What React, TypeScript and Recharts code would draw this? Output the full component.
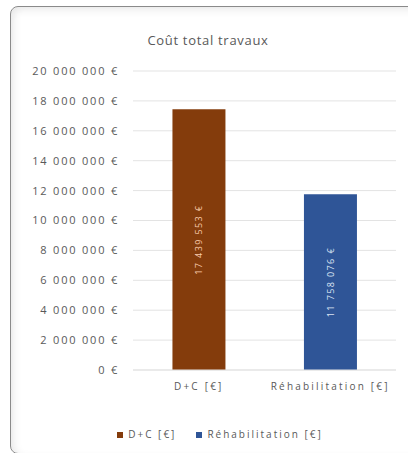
import { BarChart, Bar, XAxis, YAxis, CartesianGrid, Cell, LabelList, Legend } from "recharts";

const categories = ["D+C [€]", "Réhabilitation [€]"];
const costs = [17439553, 11758076];
const barColors = ["#843C0C", "#2F5597"];
const labelColors = ["#F8CBAD", "#DAE3F3"];
const yTicks = [0, 2000000, 4000000, 6000000, 8000000, 10000000, 12000000, 14000000, 16000000, 18000000, 20000000];

const data = categories.map((name, i) => ({ name, cost: costs[i] }));

const FONT = "'Open Sans', 'Liberation Sans', sans-serif";
const GREY = "#595959";

const euro = (v: number) =>
  v.toString().replace(/\B(?=(\d{3})+(?!\d))/g, " ") + " €";

const BarValue = (props: any) => {
  const { x, y, width, height, value, index } = props;
  const cx = x + width / 2;
  const cy = y + height / 2;
  return (
    <text
      x={cx}
      y={cy}
      transform={`rotate(-90 ${cx} ${cy})`}
      textAnchor="middle"
      dominantBaseline="central"
      fontSize={9}
      letterSpacing={1.4}
      fontFamily={FONT}
      fill={labelColors[index]}
    >
      {euro(value)}
    </text>
  );
};

const LegendContent = () => (
  <div
    style={{
      display: "flex",
      justifyContent: "center",
      gap: 20,
      paddingLeft: 44,
      fontFamily: FONT,
      fontSize: 10,
      letterSpacing: 2,
      lineHeight: "15px",
      color: GREY,
    }}
  >
    {categories.map((c, i) => (
      <span key={c} style={{ display: "flex", alignItems: "center", gap: 5 }}>
        <span style={{ width: 6, height: 6, background: barColors[i], display: "inline-block" }} />
        {c}
      </span>
    ))}
  </div>
);

export default function App() {
  return (
    <div style={{ position: "absolute", left: 0, top: 0, width: 408, height: 453, background: "#fff", overflow: "hidden" }}>
      <div
        style={{
          position: "absolute",
          left: 10,
          top: 6,
          width: 420,
          height: 446,
          border: "1px solid #8a8a8a",
          borderRadius: 8,
          boxShadow: "inset 0 8px 10px -6px #e6e6e6, inset 8px 0 10px -6px #e6e6e6",
        }}
      />
      <div
        style={{
          position: "absolute",
          top: 31,
          left: 0,
          width: 408,
          paddingLeft: 4,
          textAlign: "center",
          fontFamily: FONT,
          fontSize: 13,
          letterSpacing: 0.7,
          color: GREY,
        }}
      >
        Coût total travaux
      </div>
      <div style={{ position: "absolute", left: 0, top: 0 }}>
        <BarChart
          width={408}
          height={453}
          data={data}
          margin={{ top: 71, right: 12, bottom: 11, left: 0 }}
          barCategoryGap="30%"
        >
          <CartesianGrid vertical={false} stroke="#E3E3E3" />
          <XAxis
            dataKey="name"
            axisLine={{ stroke: "#E3E3E3" }}
            tickLine={false}
            tickMargin={7}
            height={57}
            tick={{ fontSize: 10, fill: GREY, fontFamily: FONT, letterSpacing: 2.2 }}
          />
          <YAxis
            width={133}
            domain={[0, 20000000]}
            ticks={yTicks}
            axisLine={false}
            tickLine={false}
            tickMargin={8}
            tickFormatter={euro}
            tick={{ fontSize: 11, fill: GREY, fontFamily: FONT, letterSpacing: 1.8 }}
          />
          <Legend verticalAlign="bottom" content={<LegendContent />} />
          <Bar dataKey="cost" isAnimationActive={false}>
            {data.map((d, i) => (
              <Cell key={d.name} fill={barColors[i]} />
            ))}
            <LabelList dataKey="cost" content={<BarValue />} />
          </Bar>
        </BarChart>
      </div>
    </div>
  );
}
